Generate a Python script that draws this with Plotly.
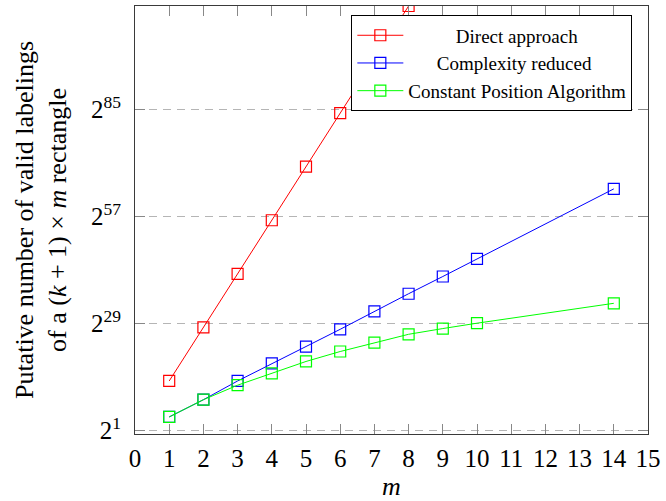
import plotly.graph_objects as go
import math

m_direct = [1, 2, 3, 4, 5, 6, 7, 8]
exp_direct = [14, 28, 42, 56, 70, 84, 98, 112]

m_reduced = [1, 2, 3, 4, 5, 6, 7, 8, 9, 10, 14]
exp_reduced = [4.6, 9.1, 14.0, 18.6, 23.0, 27.5, 32.2, 36.8, 41.3, 45.9, 64.2]

m_const = [1, 2, 3, 4, 5, 6, 7, 8, 9, 10, 14]
exp_const = [4.6, 9.1, 12.9, 16.0, 19.1, 21.7, 24.0, 26.2, 27.7, 29.1, 34.3]

x_ticks = list(range(0, 16))
y_tick_exps = [1, 29, 57, 85]

NB = "\u00a0"
series = [
    (NB * 10 + "Direct approach", m_direct, exp_direct, "#ff0000"),
    (NB * 6 + "Complexity reduced", m_reduced, exp_reduced, "#0000ff"),
    ("Constant Position Algorithm", m_const, exp_const, "#00ff00"),
]

SERIF = "Liberation Serif"

fig = go.Figure()
for name, xs, es, col in series:
    fig.add_trace(go.Scatter(
        x=xs, y=[2.0 ** e for e in es], name=name, mode="lines+markers",
        line=dict(color=col, width=1),
        marker=dict(symbol="square-open", size=11, color=col, line=dict(width=1.2, color=col)),
    ))

ymin = 2.0 ** 0.14
ymax = 2.0 ** 112

fig.update_layout(
    width=666, height=501,
    margin=dict(l=135, r=14, t=5, b=66),
    paper_bgcolor="white", plot_bgcolor="white",
    font=dict(family=SERIF, size=20, color="black"),
    showlegend=True,
    legend=dict(
        x=0.4217, y=0.978, xanchor="left", yanchor="top",
        bgcolor="white", bordercolor="black", borderwidth=1,
        font=dict(family=SERIF, size=19, color="black"),
        tracegroupgap=0, itemwidth=46,
    ),
    xaxis=dict(
        range=[0, 15], tickmode="array", tickvals=x_ticks,
        ticktext=[str(t) for t in x_ticks],
        ticks="inside", ticklen=10, tickcolor="#888888", tickwidth=1,
        showline=True, linecolor="#3a3a3a", linewidth=1.2, mirror="allticks",
        showgrid=False, zeroline=False,
        tickfont=dict(family=SERIF, size=25),
        ticklabelstandoff=2,
        title=dict(text="<i>m</i>", font=dict(family=SERIF, size=26), standoff=6),
    ),
    yaxis=dict(
        type="log", range=[math.log10(ymin), math.log10(ymax)],
        tickmode="array", tickvals=[2.0 ** e for e in y_tick_exps],
        ticktext=[f"2<sup>{e}</sup>" for e in y_tick_exps],
        ticks="inside", ticklen=10, tickcolor="#888888", tickwidth=1,
        showline=True, linecolor="#3a3a3a", linewidth=1.2, mirror="allticks",
        showgrid=True, gridcolor="#b5b5b5", griddash="8px,6px", gridwidth=1,
        zeroline=False,
        tickfont=dict(family=SERIF, size=25),
        ticklabelstandoff=8,
        title=dict(text="Putative number of valid labelings<br>of a (<i>k</i> + 1) × <i>m</i> rectangle",
                   font=dict(family=SERIF, size=26), standoff=16),
    ),
)

fig.write_html("out.html")
